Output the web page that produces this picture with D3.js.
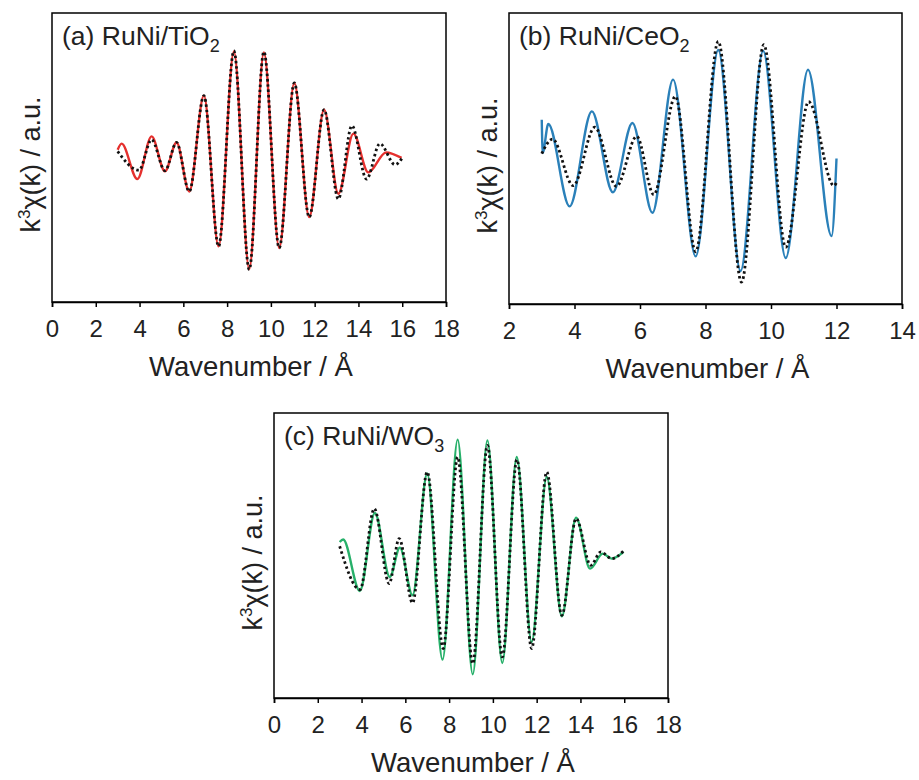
<!DOCTYPE html>
<html>
<head>
<meta charset="utf-8">
<script src="https://cdn.jsdelivr.net/npm/d3@7"></script>
<style>
  html, body { margin: 0; padding: 0; background: #fff; }
  svg { display: block; font-family: "Liberation Sans", Arial, sans-serif; }
</style>
</head>
<body>
<svg id="chart" width="919" height="780"></svg>
<script>
// EXAFS k^3-weighted chi(k): experimental data (dotted) and fit (solid), arbitrary units.

// (a) RuNi/TiO2
const tiO2FitK   = [3.0, 3.18, 3.90, 4.55, 5.16, 5.69, 6.27, 6.94, 7.61, 8.31, 9.01, 9.68, 10.38, 11.07, 11.75, 12.43, 13.08, 13.77, 14.45, 15.26, 15.97];
const tiO2FitY   = [0.54, 0.96, -1.49, 1.46, -0.96, 1.04, -2.35, 4.28, -6.15, 7.34, -7.72, 7.27, -6.26, 5.16, -4.12, 3.31, -2.51, 1.65, -1.03, 0.35, -0.03];
const tiO2DataK  = [3.0, 3.97, 4.55, 5.16, 5.69, 6.27, 6.94, 7.61, 8.31, 9.01, 9.68, 10.38, 11.07, 11.75, 12.43, 13.08, 13.70, 14.37, 14.98, 15.67, 16.0];
const tiO2DataY  = [0.42, -0.88, 1.23, -0.91, 1.04, -2.35, 4.28, -6.15, 7.39, -7.76, 7.32, -6.26, 5.16, -4.12, 3.31, -2.87, 2.20, -1.50, 0.96, -0.50, -0.03];

// (b) RuNi/CeO2
const ceO2FitK   = [3.0, 3.03, 3.2, 3.85, 4.53, 5.17, 5.77, 6.38, 7.01, 7.70, 8.39, 9.07, 9.76, 10.45, 11.13, 11.85, 12.0];
const ceO2FitY   = [2.67, 0.40, 2.37, -3.29, 3.24, -2.32, 2.44, -3.73, 5.42, -6.73, 7.46, -7.73, 7.40, -6.84, 6.10, -5.33, 0.0];
const ceO2DataK  = [3.0, 3.33, 3.96, 4.62, 5.28, 5.90, 6.42, 7.08, 7.70, 8.39, 9.10, 9.78, 10.45, 11.15, 11.92, 12.0];
const ceO2DataY  = [0.33, 1.33, -1.87, 2.15, -1.92, 1.52, -2.49, 4.27, -6.41, 8.05, -8.50, 7.82, -6.10, 3.90, -1.87, -1.66];

// (c) RuNi/WO3
const wo3FitK    = [3.0, 3.16, 3.92, 4.61, 5.29, 5.75, 6.33, 7.0, 7.70, 8.39, 9.08, 9.75, 10.43, 11.09, 11.77, 12.46, 13.15, 13.8, 14.44, 15.02, 15.43, 15.97];
const wo3FitY    = [0.95, 1.12, -2.49, 2.98, -1.51, 0.55, -2.79, 5.75, -7.31, 8.13, -8.34, 8.08, -7.54, 6.91, -6.07, 5.51, -4.27, 2.66, -0.92, 0.13, -0.22, 0.25];
const wo3DataK   = [3.0, 3.93, 4.58, 5.26, 5.72, 6.33, 7.0, 7.73, 8.39, 9.08, 9.75, 10.43, 11.1, 11.77, 12.46, 13.15, 13.8, 14.47, 14.93, 15.43, 15.97];
const wo3DataY   = [0.65, -2.39, 3.29, -1.97, 1.19, -3.33, 5.86, -6.53, 6.91, -7.59, 7.73, -7.12, 6.73, -6.53, 5.86, -4.20, 2.59, -0.69, 0.25, -0.22, 0.32];

// Axis tick labels
const ticksWide   = [0, 2, 4, 6, 8, 10, 12, 14, 16, 18];
const ticksNarrow = [2, 4, 6, 8, 10, 12, 14];

const panels = [
  { tag: "(a) RuNi/TiO", sub: "2", color: "#e5302e", xDomain: [0, 18], ticks: ticksWide,
    fitK: tiO2FitK, fitY: tiO2FitY, dataK: tiO2DataK, dataY: tiO2DataY,
    box: { left: 52, right: 446, top: 13, bottom: 302 } },
  { tag: "(b) RuNi/CeO", sub: "2", color: "#2a80b9", xDomain: [2, 14], ticks: ticksNarrow,
    fitK: ceO2FitK, fitY: ceO2FitY, dataK: ceO2DataK, dataY: ceO2DataY,
    box: { left: 509, right: 902, top: 13, bottom: 304 } },
  { tag: "(c) RuNi/WO", sub: "3", color: "#27b06a", xDomain: [0, 18], ticks: ticksWide,
    fitK: wo3FitK, fitY: wo3FitY, dataK: wo3DataK, dataY: wo3DataY,
    box: { left: 274, right: 668, top: 413, bottom: 698 } }
];

const svg = d3.select("#chart");

panels.forEach(p => {
  const b = p.box;
  const x = d3.scaleLinear().domain(p.xDomain).range([b.left, b.right]);
  const y = d3.scaleLinear().domain([-10, 10]).range([b.bottom, b.top]);
  const g = svg.append("g");

  const line = d3.line()
    .x(d => x(d[0]))
    .y(d => y(d[1]))
    .curve(d3.curveMonotoneX);

  const fit = p.fitK.map((k, i) => [k, p.fitY[i]]);
  const dat = p.dataK.map((k, i) => [k, p.dataY[i]]);

  g.append("path").datum(fit)
    .attr("d", line)
    .attr("fill", "none")
    .attr("stroke", p.color)
    .attr("stroke-width", 2.4)
    .attr("stroke-linejoin", "round");

  g.append("path").datum(dat)
    .attr("d", line)
    .attr("fill", "none")
    .attr("stroke", "#111")
    .attr("stroke-width", 2.8)
    .attr("stroke-dasharray", "2.5 2.8");

  // frame
  g.append("rect")
    .attr("x", b.left).attr("y", b.top)
    .attr("width", b.right - b.left).attr("height", b.bottom - b.top)
    .attr("fill", "none").attr("stroke", "#000").attr("stroke-width", 1.5);

  // bottom axis
  const ax = g.append("g")
    .attr("transform", `translate(0,${b.bottom})`)
    .call(d3.axisBottom(x).tickValues(p.ticks).tickSize(5).tickPadding(13).tickFormat(d3.format("d")));
  ax.select(".domain").attr("stroke", "#000").attr("stroke-width", 1.5);
  ax.selectAll(".tick line").attr("stroke", "#000").attr("stroke-width", 1.5);
  ax.selectAll(".tick text")
    .attr("fill", "#222")
    .style("font-size", "24px")
    .style("font-family", "'Liberation Sans', Arial, sans-serif");

  // x axis title
  g.append("text")
    .attr("x", (b.left + b.right) / 2 + 2)
    .attr("y", b.bottom + 74)
    .attr("text-anchor", "middle")
    .attr("fill", "#222")
    .style("font-size", "27.5px")
    .text("Wavenumber / Å");

  // y axis title
  const yt = g.append("text")
    .attr("transform", `translate(${b.left - 12},${(b.top + b.bottom) / 2 + 7}) rotate(-90)`)
    .attr("text-anchor", "middle")
    .attr("fill", "#222")
    .style("font-size", "27px");
  yt.append("tspan").text("k");
  yt.append("tspan").attr("dy", -10).style("font-size", "17px").text("3");
  yt.append("tspan").attr("dy", 10).text("χ(k) / a.u.");

  // panel label
  const t = g.append("text")
    .attr("x", b.left + 10)
    .attr("y", b.top + 32)
    .attr("fill", "#222")
    .style("font-size", "26.5px");
  t.append("tspan").text(p.tag);
  t.append("tspan").attr("dy", 7).style("font-size", "18px").text(p.sub);
});
</script>
</body>
</html>
